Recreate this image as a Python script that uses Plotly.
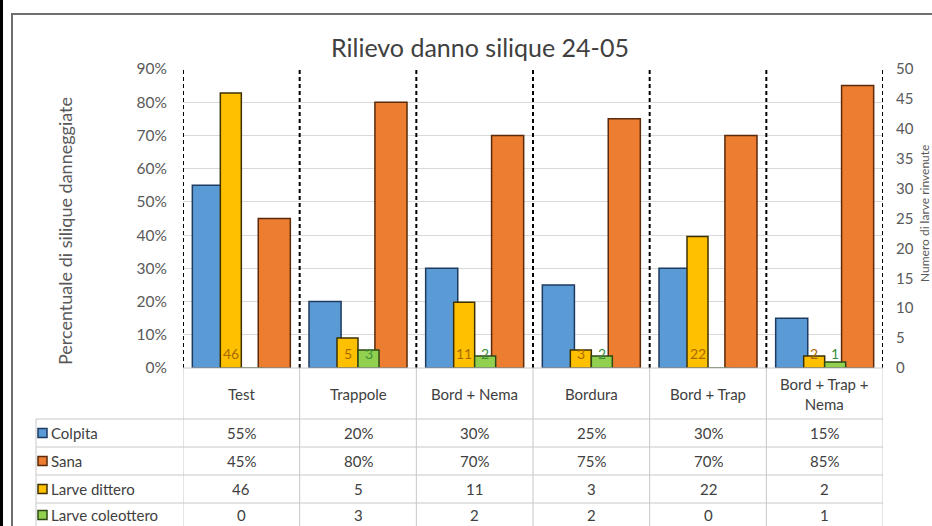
import plotly.graph_objects as go

# ---- data -------------------------------------------------------------
categories = ["Test", "Trappole", "Bord + Nema", "Bordura", "Bord + Trap", "Bord + Trap + Nema"]
header_labels = ["Test", "Trappole", "Bord + Nema", "Bordura", "Bord + Trap", "Bord + Trap +<br>Nema"]
colpita = [0.55, 0.20, 0.30, 0.25, 0.30, 0.15]          # share of damaged siliques
sana = [0.45, 0.80, 0.70, 0.75, 0.70, 0.85]             # share of healthy siliques
larve_dittero = [46, 5, 11, 3, 22, 2]                   # larvae found (right axis)
larve_coleottero = [0, 3, 2, 2, 0, 1]

series_names = ["Colpita", "Sana", "Larve dittero", "Larve coleottero"]
fills = ["#5B9BD5", "#ED7D31", "#FFC000", "#92D050"]
edges = ["#1F3A60", "#5A2A0A", "#3D3000", "#2E4A14"]

W, H = 932, 526


def px(x):
    return x / W


def py(y):
    return 1 - y / H


PLOT_L, PLOT_R, PLOT_T, PLOT_B = 183, 883, 69, 368
FONT = "Lato"
TXT = "#595959"
TBL = "#404040"
GRID = "#D9D9D9"

fig = go.Figure()

# primary axis bars (percentages)
prim = [(colpita, -0.42), (sana, 0.145)]
for k, (vals, off) in enumerate(prim):
    fig.add_trace(go.Bar(
        x=categories, y=vals, name=series_names[k], yaxis="y",
        offset=off, width=0.275,
        marker=dict(color=fills[k], line=dict(color=edges[k], width=1.5)),
        showlegend=False, hoverinfo="x+y",
    ))

# secondary axis bars (larvae counts)
sec = [(larve_dittero, -0.18), (larve_coleottero, 0.0)]
for k, (vals, off) in enumerate(sec):
    fig.add_trace(go.Bar(
        x=categories, y=vals, name=series_names[k + 2], yaxis="y2",
        offset=off, width=0.18,
        marker=dict(color=fills[k + 2], line=dict(color=edges[k + 2], width=1.5)),
        showlegend=False, hoverinfo="x+y",
    ))

shapes = []
annotations = []


def note(**kw):
    kw.setdefault("showarrow", False)
    kw.setdefault("xanchor", "center")
    kw.setdefault("yanchor", "middle")
    annotations.append(kw)


# dashed separators between treatments
for i in range(len(categories) + 1):
    shapes.append(dict(type="line", xref="x", yref="paper", x0=i - 0.5, x1=i - 0.5,
                       y0=py(PLOT_B), y1=py(PLOT_T),
                       line=dict(color="black", width=2, dash="4px,3px"), layer="above"))

# value labels at the base of the larvae bars
label_colors = ["#A86A00", "#3C8F3C"]
for k, (vals, off) in enumerate(sec):
    for i, v in enumerate(vals):
        if v == 0:
            continue
        note(xref="x", yref="y2", x=i + off + 0.09, y=0, text=str(v), yshift=15,
             font=dict(family=FONT, size=14, color=label_colors[k]))

# ---- data table below the chart ---------------------------------------
TLINE = "#C8C8C8"
TABLE_L = 36
row_lines = [419, 447, 475, 503, 530]
header_mid = (PLOT_B + row_lines[0]) / 2

shapes.append(dict(type="line", xref="paper", yref="paper", x0=px(PLOT_L), x1=px(PLOT_R),
                   y0=py(PLOT_B), y1=py(PLOT_B), line=dict(color=TLINE, width=1)))
for yl in row_lines[:-1]:
    shapes.append(dict(type="line", xref="paper", yref="paper", x0=px(TABLE_L), x1=px(PLOT_R),
                       y0=py(yl), y1=py(yl), line=dict(color=TLINE, width=1)))
for i in range(len(categories) + 1):
    shapes.append(dict(type="line", xref="x", yref="paper", x0=i - 0.5, x1=i - 0.5,
                       y0=py(PLOT_B), y1=0, line=dict(color=TLINE, width=1), layer="below"))
shapes.append(dict(type="line", xref="paper", yref="paper", x0=px(TABLE_L), x1=px(TABLE_L),
                   y0=py(row_lines[0]), y1=0, line=dict(color=TLINE, width=1)))

for i, lab in enumerate(header_labels):
    note(xref="x", yref="paper", x=i, y=py(header_mid), text=lab,
         font=dict(family=FONT, size=15, color=TBL))

rows = [
    [f"{round(v * 100)}%" for v in colpita],
    [f"{round(v * 100)}%" for v in sana],
    [str(v) for v in larve_dittero],
    [str(v) for v in larve_coleottero],
]
for r, cells in enumerate(rows):
    yc = (row_lines[r] + row_lines[r + 1]) / 2
    if r == len(rows) - 1:
        yc -= 1.5
    for i, c in enumerate(cells):
        note(xref="x", yref="paper", x=i, y=py(yc), text=c,
             font=dict(family=FONT, size=15, color=TBL))
    # legend key + series name
    shapes.append(dict(type="rect", xref="paper", yref="paper",
                       x0=px(38), x1=px(47), y0=py(yc + 4.5), y1=py(yc - 4.5),
                       fillcolor=fills[r], line=dict(color=edges[r], width=1.5)))
    note(xref="paper", yref="paper", x=px(49), y=py(yc), text=series_names[r],
         xanchor="left", font=dict(family=FONT, size=15, color=TBL))

# titles
note(xref="paper", yref="paper", x=px(480), y=py(47),
     text="Rilievo danno silique 24-05", font=dict(family=FONT, size=25, color=TBL))
note(xref="paper", yref="paper", x=px(65), y=py(231),
     text="Percentuale di silique danneggiate", textangle=-90,
     font=dict(family=FONT, size=18, color=TXT))
note(xref="paper", yref="paper", x=px(924), y=py(214),
     text="Numero di larve rinvenute", textangle=-90,
     font=dict(family=FONT, size=12, color=TXT))

# chart frame
shapes.append(dict(type="rect", xref="paper", yref="paper", x0=px(12), x1=px(945),
                   y0=py(545), y1=py(14), line=dict(color="#6E6E6E", width=2)))
shapes.append(dict(type="line", xref="paper", yref="paper", x0=px(1.5), x1=px(1.5),
                   y0=0, y1=1, line=dict(color="black", width=3)))

fig.update_layout(
    width=W, height=H,
    margin=dict(l=0, r=0, t=0, b=0, autoexpand=False),
    paper_bgcolor="white", plot_bgcolor="white",
    barmode="overlay",
    xaxis=dict(type="category", categoryorder="array", categoryarray=categories,
               domain=[px(PLOT_L), px(PLOT_R)], range=[-0.5, len(categories) - 0.5],
               showticklabels=False, showgrid=False, zeroline=False, showline=False, ticks="",
               automargin=False),
    yaxis=dict(domain=[py(PLOT_B), py(PLOT_T)], range=[0, 0.9], dtick=0.1, tickformat=".0%",
               showgrid=True, gridcolor=GRID, gridwidth=1, zeroline=False, showline=False,
               ticks="", ticklabelstandoff=15, automargin=False,
               tickfont=dict(family=FONT, size=15.5, color=TXT)),
    yaxis2=dict(overlaying="y", side="right", range=[0, 50], dtick=5,
                showgrid=False, zeroline=False, showline=False, ticks="", ticklabelstandoff=12,
                automargin=False, tickfont=dict(family=FONT, size=15, color=TXT)),
    shapes=shapes,
    annotations=annotations,
    font=dict(family=FONT),
)

fig.write_html("out.html")
